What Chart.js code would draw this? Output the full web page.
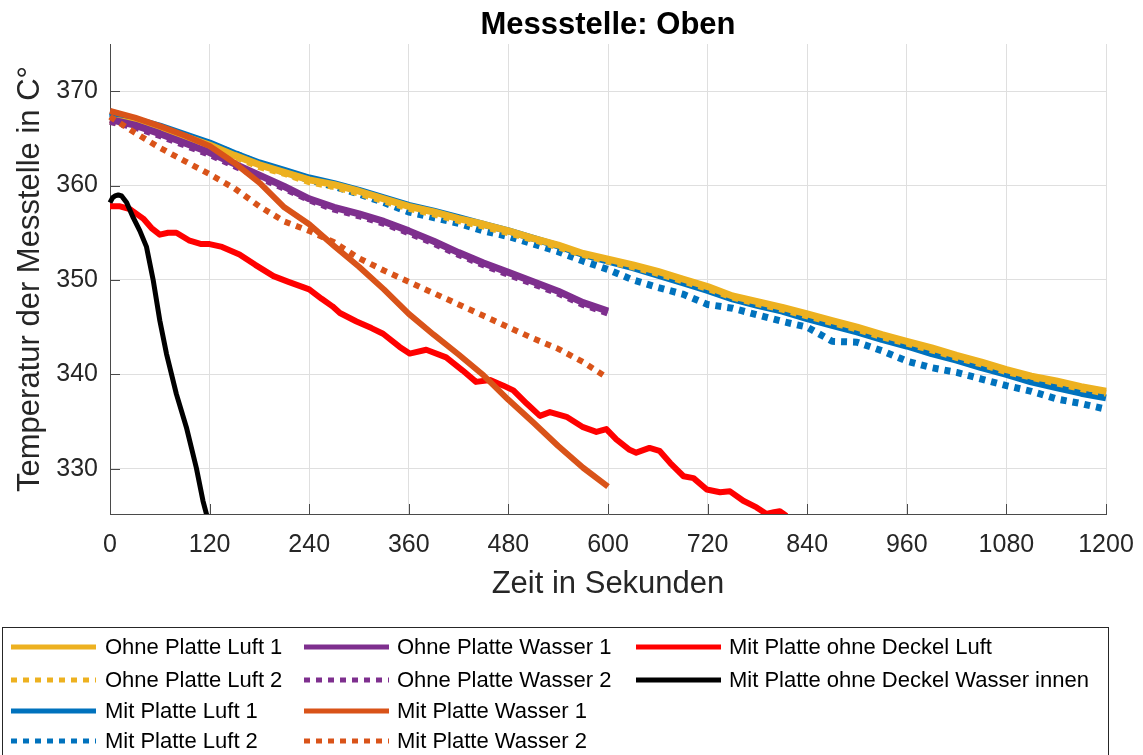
<!DOCTYPE html>
<html>
<head>
<meta charset="utf-8">
<script src="https://cdn.jsdelivr.net/npm/chart.js@4.4.1/dist/chart.umd.min.js"></script>
<style>
  html, body { margin: 0; padding: 0; background: #ffffff; }
  #wrap { position: relative; width: 1143px; height: 755px; }
</style>
</head>
<body>
<div id="wrap"><canvas id="c" width="1143" height="755"></canvas></div>
<script>
// ---------- data ----------
const chartTitle = 'Messstelle: Oben';
const xAxisTitle = 'Zeit in Sekunden';
const yAxisTitle = 'Temperatur der Messtelle in C°';

const xTicks = [0, 120, 240, 360, 480, 600, 720, 840, 960, 1080, 1200];
const yTicks = [330, 340, 350, 360, 370];

const seriesNames = [
  'Ohne Platte Luft 1', 'Ohne Platte Luft 2', 'Mit Platte Luft 1', 'Mit Platte Luft 2',
  'Ohne Platte Wasser 1', 'Ohne Platte Wasser 2', 'Mit Platte Wasser 1', 'Mit Platte Wasser 2',
  'Mit Platte ohne Deckel Luft', 'Mit Platte ohne Deckel Wasser innen'
];

const timeLuft = [0, 30, 60, 90, 120, 150, 180, 210, 240, 270, 300, 330, 360, 390, 420, 450, 480, 510, 540, 570, 600,
  630, 660, 690, 720, 750, 780, 810, 840, 870, 900, 930, 960, 990, 1020, 1050, 1080, 1110, 1140, 1170, 1200];
const ohnePlatteLuft1 = [367.0, 366.6, 366.0, 365.2, 364.3, 363.2, 362.2, 361.4, 360.6, 360.1, 359.4, 358.6, 357.8, 357.2,
  356.5, 355.9, 355.2, 354.4, 353.7, 352.8, 352.2, 351.6, 350.9, 350.1, 349.3, 348.3, 347.7, 347.1, 346.4, 345.7, 345.0,
  344.2, 343.5, 342.8, 342.0, 341.3, 340.5, 339.8, 339.3, 338.7, 338.2];
const ohnePlatteLuft2 = [366.8, 366.4, 365.8, 365.0, 364.1, 363.1, 362.0, 361.3, 360.4, 359.9, 359.2, 358.4, 357.6, 357.0,
  356.3, 355.7, 355.0, 354.3, 353.5, 352.7, 352.0, 351.4, 350.7, 349.9, 349.1, 348.2, 347.5, 346.9, 346.2, 345.5, 344.8,
  344.0, 343.3, 342.6, 341.8, 341.1, 340.3, 339.7, 339.1, 338.5, 338.0];
const mitPlatteLuft1 = [367.8, 367.0, 366.3, 365.4, 364.5, 363.4, 362.4, 361.6, 360.8, 360.2, 359.5, 358.7, 357.9, 357.3,
  356.6, 355.9, 355.2, 354.4, 353.6, 352.7, 352.0, 351.3, 350.5, 349.7, 348.9, 348.0, 347.3, 346.7, 345.9, 345.2, 344.5,
  343.7, 343.0, 342.2, 341.5, 340.7, 340.0, 339.2, 338.6, 338.0, 337.5];
const mitPlatteLuft2 = [367.6, 367.0, 366.2, 365.3, 364.4, 363.4, 362.3, 361.4, 360.6, 359.9, 359.1, 358.2, 357.2, 356.6,
  356.0, 355.2, 354.6, 353.8, 353.0, 352.0, 351.1, 350.0, 349.2, 348.5, 347.4, 347.0, 346.3, 345.6, 345.0, 343.5, 343.4,
  342.5, 341.4, 340.7, 340.2, 339.5, 338.8, 338.2, 337.4, 336.9, 336.3];

const timeWasser = [0, 30, 60, 90, 120, 150, 180, 210, 240, 270, 300, 330, 360, 390, 420, 450, 480, 510, 540, 570, 600];
const ohnePlatteWasser1 = [367.0, 366.4, 365.5, 364.5, 363.5, 362.3, 361.1, 359.9, 358.6, 357.7, 357.0, 356.2, 355.2,
  354.1, 352.9, 351.8, 350.8, 349.8, 348.8, 347.6, 346.7];
const ohnePlatteWasser2 = [366.8, 366.2, 365.3, 364.3, 363.3, 362.1, 360.9, 359.7, 358.5, 357.5, 356.8, 356.0, 355.0,
  353.9, 352.7, 351.6, 350.6, 349.6, 348.6, 347.4, 346.5];
const mitPlatteWasser1 = [367.9, 367.2, 366.3, 365.3, 364.2, 362.4, 360.3, 357.7, 355.9, 353.6, 351.4, 349.0, 346.4,
  344.2, 342.1, 339.9, 337.3, 334.9, 332.4, 330.1, 328.1];
const mitPlatteWasser2 = [367.3, 365.6, 364.0, 362.6, 361.2, 359.7, 357.8, 356.2, 355.2, 354.0, 352.3, 351.0, 349.8,
  348.6, 347.4, 346.2, 345.0, 343.8, 342.7, 341.3, 339.6];

const timeOhneDeckelLuft = [0, 12, 24, 40, 50, 60, 70, 80, 95, 110, 120, 135, 156, 175, 197, 215, 240, 255, 268, 277,
  297, 315, 329, 349, 361, 381, 405, 425, 441, 458, 474, 486, 502, 518, 530, 550, 570, 586, 598, 610, 626, 634, 650,
  662, 675, 691, 703, 719, 735, 747, 763, 779, 791, 800, 807, 815];
const mitPlatteOhneDeckelLuft = [357.8, 357.8, 357.5, 356.5, 355.5, 354.8, 355.0, 355.0, 354.2, 353.8, 353.8, 353.5,
  352.7, 351.6, 350.4, 349.8, 349.0, 348.0, 347.2, 346.5, 345.6, 344.9, 344.3, 342.9, 342.2, 342.6, 341.8, 340.4,
  339.2, 339.4, 338.8, 338.3, 336.9, 335.6, 336.0, 335.5, 334.4, 333.9, 334.2, 333.1, 332.0, 331.7, 332.2, 331.9,
  330.6, 329.2, 329.0, 327.8, 327.5, 327.6, 326.6, 325.9, 325.2, 325.4, 325.5, 325.0];

const timeOhneDeckelWasser = [0, 3, 6, 10, 14, 20, 28, 36, 44, 52, 60, 68, 80, 92, 104, 112, 118];
const mitPlatteOhneDeckelWasser = [358.2, 358.7, 358.9, 359.0, 358.9, 358.2, 356.6, 355.2, 353.5, 350.0, 345.7, 342.2,
  337.9, 334.4, 330.1, 326.6, 324.6];

// ---------- helpers ----------
const pts = (xs, ys) => xs.map((x, i) => ({ x: x, y: ys[i] }));
const FONT = "'Liberation Sans', Arial, Helvetica, sans-serif";
const DOT = [6, 6];

const styles = [
  { color: '#EDB120', dash: [],  order: 6, width: 7 },
  { color: '#EDB120', dash: DOT, order: 7, width: 7 },
  { color: '#0072BD', dash: [],  order: 9, width: 7 },
  { color: '#0072BD', dash: DOT, order: 8, width: 7 },
  { color: '#7E2F8E', dash: [],  order: 4, width: 7 },
  { color: '#7E2F8E', dash: DOT, order: 5, width: 7 },
  { color: '#D95319', dash: [],  order: 1, width: 6 },
  { color: '#D95319', dash: DOT, order: 3, width: 6 },
  { color: '#FF0000', dash: [],  order: 2, width: 6 },
  { color: '#000000', dash: [],  order: 0, width: 5 }
];
const seriesData = [
  pts(timeLuft, ohnePlatteLuft1), pts(timeLuft, ohnePlatteLuft2),
  pts(timeLuft, mitPlatteLuft1), pts(timeLuft, mitPlatteLuft2),
  pts(timeWasser, ohnePlatteWasser1), pts(timeWasser, ohnePlatteWasser2),
  pts(timeWasser, mitPlatteWasser1), pts(timeWasser, mitPlatteWasser2),
  pts(timeOhneDeckelLuft, mitPlatteOhneDeckelLuft), pts(timeOhneDeckelWasser, mitPlatteOhneDeckelWasser)
];

const datasets = seriesNames.map((name, i) => ({
  label: name,
  data: seriesData[i],
  borderColor: styles[i].color,
  backgroundColor: styles[i].color,
  borderDash: styles[i].dash,
  borderWidth: styles[i].width,
  borderJoinStyle: 'round',
  pointRadius: 0,
  tension: 0,
  fill: false,
  order: styles[i].order,
  clip: { left: 4, right: 4, top: 0, bottom: 0 }
}));

// ---------- plugins ----------
const chromePlugin = {
  id: 'chrome',
  afterDraw(chart) {
    const { ctx, chartArea, scales } = chart;
    ctx.save();
    // inward tick marks
    ctx.strokeStyle = '#4a4a4a';
    ctx.lineWidth = 1;
    ctx.beginPath();
    xTicks.forEach(v => {
      const px = Math.round(scales.x.getPixelForValue(v)) + 0.5;
      ctx.moveTo(px, chartArea.bottom);
      ctx.lineTo(px, chartArea.bottom - 10);
    });
    yTicks.forEach(v => {
      const py = Math.round(scales.y.getPixelForValue(v)) + 0.5;
      ctx.moveTo(chartArea.left, py);
      ctx.lineTo(chartArea.left + 10, py);
    });
    ctx.stroke();
    // title centred over the plot area
    ctx.fillStyle = '#000000';
    ctx.font = 'bold 31px ' + FONT;
    ctx.textAlign = 'center';
    ctx.textBaseline = 'middle';
    ctx.fillText(chartTitle, (chartArea.left + chartArea.right) / 2, 25);
    ctx.restore();
  }
};

const boxLegend = {
  id: 'boxLegend',
  afterDraw(chart) {
    const ctx = chart.ctx;
    const colLine = [11, 304, 636];
    const colText = [105, 397, 729];
    const rowY = [647, 680, 711, 741];
    const lineLen = 85;
    const perCol = [4, 4, 2];
    ctx.save();
    ctx.strokeStyle = '#262626';
    ctx.lineWidth = 1;
    ctx.strokeRect(2.5, 627.5, 1106, 160);
    let idx = 0;
    for (let c = 0; c < 3; c++) {
      for (let r = 0; r < perCol[c]; r++) {
        const ds = chart.data.datasets[idx];
        ctx.beginPath();
        ctx.setLineDash(ds.borderDash || []);
        ctx.lineWidth = 5;
        ctx.strokeStyle = ds.borderColor;
        ctx.moveTo(colLine[c], rowY[r]);
        ctx.lineTo(colLine[c] + lineLen, rowY[r]);
        ctx.stroke();
        ctx.setLineDash([]);
        ctx.fillStyle = '#000000';
        ctx.font = '22px ' + FONT;
        ctx.textBaseline = 'middle';
        ctx.textAlign = 'left';
        ctx.fillText(ds.label, colText[c], rowY[r] + 1);
        idx++;
      }
    }
    ctx.restore();
  }
};

Chart.defaults.font.family = FONT;
Chart.defaults.color = '#262626';

new Chart(document.getElementById('c'), {
  type: 'line',
  data: { datasets: datasets },
  options: {
    responsive: false,
    animation: false,
    layout: { padding: { left: 0, right: 37, top: 44, bottom: 151 } },
    plugins: {
      legend: { display: false },
      tooltip: { enabled: false },
      title: { display: false }
    },
    scales: {
      x: {
        type: 'linear',
        min: 0,
        max: 1200,
        afterBuildTicks: (s) => { s.ticks = xTicks.map(v => ({ value: v })); },
        afterFit: (s) => { s.height = 90; s.paddingLeft = 0; s.paddingRight = 0; },
        ticks: { font: { size: 25, family: FONT }, color: '#262626', padding: 16, maxRotation: 0,
                 autoSkip: false, callback: (v) => String(v) },
        grid: { color: '#dfdfdf', lineWidth: 1, drawTicks: false },
        border: { display: true, color: '#4a4a4a', width: 1 },
        title: { display: true, text: xAxisTitle, color: '#262626',
                 font: { size: 31, family: FONT }, padding: { top: 0, bottom: 1 } }
      },
      y: {
        type: 'linear',
        min: 325.2,
        max: 375,
        afterBuildTicks: (s) => { s.ticks = yTicks.map(v => ({ value: v })); },
        afterFit: (s) => { s.width = 110; s.paddingTop = 0; s.paddingBottom = 0; },
        ticks: { font: { size: 25, family: FONT }, color: '#262626', padding: 12,
                 callback: (v) => String(v) },
        grid: { color: '#dfdfdf', lineWidth: 1, drawTicks: false },
        border: { display: true, color: '#4a4a4a', width: 1 },
        title: { display: true, text: yAxisTitle, color: '#262626',
                 font: { size: 31, family: FONT }, padding: { top: 12, bottom: 0 } }
      }
    }
  },
  plugins: [chromePlugin, boxLegend]
});
</script>
</body>
</html>
